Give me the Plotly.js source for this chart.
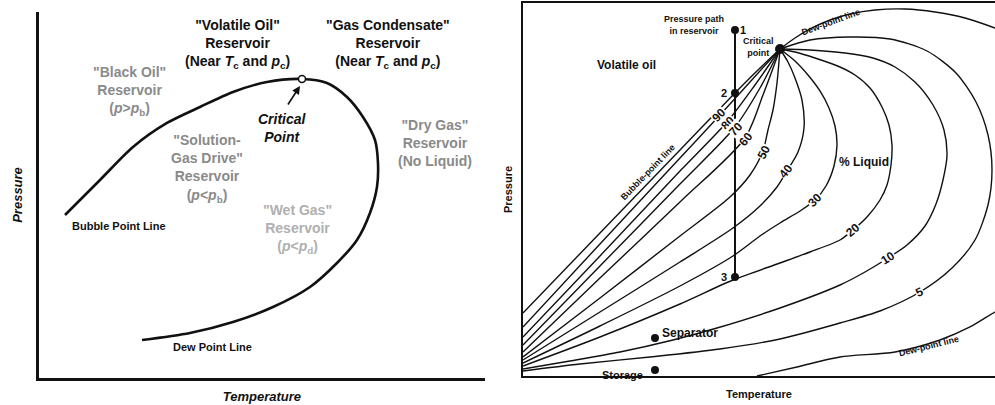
<!DOCTYPE html>
<html><head><meta charset="utf-8">
<script src="https://cdn.plot.ly/plotly-3.0.1.min.js"></script>
<style>html,body{margin:0;padding:0;background:#fff}#chart{width:995px;height:405px}</style>
</head><body><div id="chart"></div>
<script>
// ---------- LEFT PANEL: generic phase envelope (arbitrary units) ----------
const envT = [26,61,94,128,161,194,228,263,288,308,324,336,339,338,331,318,298,271,234,194,151,103];
const envP = [163,198,231,255,271,286,296,299,295,281,261,238,215,191,165,138,115,91,71,56,45,38];
const critLT = [263];
const critLP = [299];

// ---------- RIGHT PANEL: volatile oil phase diagram (arbitrary units) ----------
const bubbleT = [0,77,157,212,235,257];
const bubbleP = [63,143,226,283,306,327];
const q90T = [0,77,157,197,227,257];
const q90P = [49,132,218,261,294,327];
const q80T = [0,77,157,204,232,257];
const q80P = [39,120,205,254,291,327];
const q70T = [0,77,157,212,237,257];
const q70P = [31,110,192,249,288,327];
const q60T = [0,77,157,222,240,257];
const q60P = [24,98,174,238,281,327];
const q50T = [0,77,157,207,227,240,245,250,254,257];
const q50P = [19,78,140,179,201,225,246,266,293,327];
const q40T = [0,77,157,210,237,254,264,275,281,279,272,265,257];
const q40P = [16,64,114,148,170,189,205,224,248,276,298,314,327];
const q30T = [0,77,157,210,237,257,277,292,303,311,314,312,306,297,285,272,257];
const q30P = [13,50,90,120,140,153,165,176,190,210,231,250,268,285,301,315,327];
const q20T = [0,77,157,210,257,287,317,330,344,357,364,368,369,366,359,347,332,317,292,272,257];
const q20P = [10,39,72,96,113,124,136,146,159,176,191,211,231,251,269,288,301,309,318,324,327];
const q10T = [0,47,97,150,194,257,317,342,365,384,402,413,420,424,421,410,392,372,350,322,287,257];
const q10P = [7,15,24,36,48,68,91,104,118,131,150,172,196,221,246,271,294,309,318,323,326,327];
const q5T = [0,57,127,197,257,317,357,397,429,452,465,469,465,453,433,404,367,327,287,257];
const q5P = [5,12,19,27,37,53,65,84,108,136,171,206,241,274,303,325,337,339,336,327];
const dewUpT = [257,272,289,307,327,352,382,412,442,472,495];
const dewUpP = [327,338,348,356,362,366,367,364,358,348,339];
const dewLowT = [234,274,317,372,417,447,472,495];
const dewLowP = [0,9,19,24,36,49,64,76];
const pathT = [212,212,212];
const pathP = [346,283,99];
const pathLabels = ['1','2','3'];
const critRT = [257];
const critRP = [327];
const sepT = [132], sepP = [38];
const storT = [132], storP = [6];

const qualityLabels = ['90','80','70','60','50','40','30','20','10','5'];
const qualityT = [196,205,213,223,241,263,292,330,365,397];
const qualityP = [261,253,247,237,224,205,176,146,118,84];
const qualityAngle = [-45,-45,-48,-52,-62,-52,-45,-40,-32,-25];

const FONT = 'Liberation Sans, Arial, sans-serif';
const BLACK = '#111';

const traces = [];
traces.push({x: envT, y: envP, xaxis:'x', yaxis:'y', mode:'lines',
  line:{color:BLACK, width:2.6, shape:'spline', smoothing:0.8}});
traces.push({x: critLT, y: critLP, xaxis:'x', yaxis:'y', mode:'markers',
  marker:{size:7, color:'#fff', line:{color:BLACK, width:1.5}}});

const rightLines = [
  [bubbleT,bubbleP],[q90T,q90P],[q80T,q80P],[q70T,q70P],[q60T,q60P],[q50T,q50P],
  [q40T,q40P],[q30T,q30P],[q20T,q20P],[q10T,q10P],[q5T,q5P],[dewUpT,dewUpP],[dewLowT,dewLowP]
];
rightLines.forEach(function(l){
  traces.push({x:l[0], y:l[1], xaxis:'x2', yaxis:'y2', mode:'lines',
    line:{color:BLACK, width:1.4, shape:'spline', smoothing:0.8}});
});
traces.push({x: pathT, y: pathP, xaxis:'x2', yaxis:'y2', mode:'lines+markers',
  line:{color:BLACK, width:2}, marker:{size:8, color:BLACK}});
traces.push({x: critRT, y: critRP, xaxis:'x2', yaxis:'y2', mode:'markers',
  marker:{size:10, color:BLACK}});
traces.push({x: sepT.concat(storT), y: sepP.concat(storP), xaxis:'x2', yaxis:'y2', mode:'markers',
  marker:{size:8, color:BLACK}});

function A(ref, text, x, y, o){
  return Object.assign({xref: ref==='L'?'x':'x2', yref: ref==='L'?'y':'y2', x:x, y:y, text:text,
    showarrow:false, xanchor:'center', yanchor:'middle', align:'center',
    font:{family:FONT, size:14, color:BLACK}}, o||{});
}
const GRAY = '#8a8a8a', LGRAY = '#b0b0b0';
const ann = [
  A('L','<b>"Volatile Oil"<br>Reservoir<br>(Near <i>T</i><sub>c</sub> and <i>p</i><sub>c</sub>)</b>',199,334),
  A('L','<b>"Gas Condensate"<br>Reservoir<br>(Near <i>T</i><sub>c</sub> and <i>p</i><sub>c</sub>)</b>',349,334),
  A('L','<b>"Black Oil"<br>Reservoir<br>(<i>p</i>&gt;<i>p</i><sub>b</sub>)</b>',91,287,{font:{family:FONT,size:14,color:GRAY}}),
  A('L','<b><i>Critical<br>Point</i></b>',244,250),
  A('L','<b>"Solution-<br>Gas Drive"<br>Reservoir<br>(<i>p</i>&lt;<i>p</i><sub>b</sub>)</b>',168,209,{font:{family:FONT,size:14,color:GRAY}}),
  A('L','<b>"Dry Gas"<br>Reservoir<br>(No Liquid)</b>',396,235,{font:{family:FONT,size:14,color:GRAY}}),
  A('L','<b>"Wet Gas"<br>Reservoir<br>(<i>p</i>&lt;<i>p</i><sub>d</sub>)</b>',259,149,{font:{family:FONT,size:14,color:LGRAY}}),
  A('L','<b>Bubble Point Line</b>',80,152,{font:{family:FONT,size:11,color:BLACK}}),
  A('L','<b>Dew Point Line</b>',174,31,{font:{family:FONT,size:11,color:BLACK}}),
  {xref:'x', yref:'y', x:261, y:292, ax:248, ay:272, axref:'x', ayref:'y', text:'', showarrow:true,
    arrowhead:2, arrowsize:1, arrowwidth:1.6, arrowcolor:BLACK},
  // right panel
  A('R','<b>Volatile oil</b>',104,311,{font:{family:FONT,size:12,color:BLACK}}),
  A('R','<b>Pressure path<br>in reservoir</b>',171,351,{font:{family:FONT,size:9,color:BLACK}}),
  A('R','<b>Critical<br>point</b>',236,329,{font:{family:FONT,size:9,color:BLACK}}),
  A('R','<b>% Liquid</b>',341,214,{font:{family:FONT,size:12,color:BLACK}}),
  A('R','<b>Separator</b>',167,43,{font:{family:FONT,size:12,color:BLACK}}),
  A('R','<b>Storage</b>',100,1,{font:{family:FONT,size:11,color:BLACK}}),
  A('R','<b>Bubble-point line</b>',125,204,{textangle:-46,font:{family:FONT,size:9,color:BLACK}}),
  A('R','<b>Dew-point line</b>',308,354,{textangle:-20,font:{family:FONT,size:9,color:BLACK}}),
  A('R','<b>Dew-point line</b>',406,30,{textangle:-14,font:{family:FONT,size:9,color:BLACK}})
];
const pathLabelDT = [8,-11,-11];
pathLabels.forEach(function(t,i){
  ann.push(A('R','<b>'+t+'</b>', pathT[i]+pathLabelDT[i], pathP[i], {font:{family:FONT,size:11,color:BLACK}}));
});
qualityLabels.forEach(function(t,i){
  ann.push(A('R','<b>'+t+'</b>', qualityT[i], qualityP[i], {textangle:qualityAngle[i], bgcolor:'#fff', borderpad:0,
    font:{family:FONT,size:12,color:BLACK}}));
});

const axBase = {showgrid:false, zeroline:false, showticklabels:false, ticks:'', showline:true, linecolor:BLACK};
const layout = {
  width:995, height:405, margin:{l:0,r:0,t:0,b:0}, showlegend:false, hovermode:false,
  paper_bgcolor:'#fff', plot_bgcolor:'rgba(0,0,0,0)',
  xaxis: Object.assign({}, axBase, {domain:[0.0392,0.4874], range:[0,446], linewidth:3, anchor:'y',
    title:{text:'<b><i>Temperature</i></b>', font:{family:FONT,size:13,color:BLACK}, standoff:12}}),
  yaxis: Object.assign({}, axBase, {domain:[0.0667,0.9704], range:[0,366], linewidth:3, anchor:'x',
    title:{text:'<b><i>Pressure</i></b>', font:{family:FONT,size:13,color:BLACK}, standoff:11}}),
  xaxis2: Object.assign({}, axBase, {domain:[0.5256,1], range:[0,472], linewidth:1.5, mirror:true, anchor:'y2',
    title:{text:'<b>Temperature</b>', font:{family:FONT,size:11,color:BLACK}, standoff:14}}),
  yaxis2: Object.assign({}, axBase, {domain:[0.0716,0.9926], range:[0,373], linewidth:1.5, anchor:'x2',
    title:{text:'<b>Pressure</b>', font:{family:FONT,size:11,color:BLACK}, standoff:6}}),
  annotations: ann
};
Plotly.newPlot('chart', traces, layout, {staticPlot:true, displayModeBar:false});
</script>
</body></html>
